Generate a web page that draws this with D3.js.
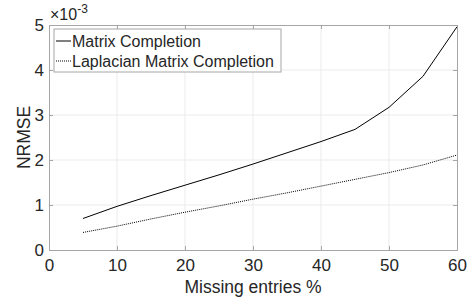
<!DOCTYPE html>
<html>
<head>
<meta charset="utf-8">
<script src="https://cdn.jsdelivr.net/npm/d3@7"></script>
<style>
    body { margin: 0; background: #fff; }
    text { font-family: 'Liberation Sans', Arial, sans-serif; fill: #262626; }
</style>
</head>
<body>
<div id="chart"></div>
<script>
const missing = [5, 10, 15, 20, 25, 30, 35, 40, 45, 50, 55, 60]
const mcValues = [0.70, 0.97, 1.21, 1.44, 1.67, 1.91, 2.16, 2.41, 2.68, 3.17, 3.86, 4.96]
const lmcValues = [0.39, 0.53, 0.69, 0.84, 0.98, 1.13, 1.27, 1.42, 1.57, 1.72, 1.89, 2.11]
const xTicks = [0, 10, 20, 30, 40, 50, 60]
const yTicks = [0, 1, 2, 3, 4, 5]
const seriesNames = ['Matrix Completion', 'Laplacian Matrix Completion']

drawChart()
function drawChart() {
    const dim = {
        width: 475,
        height: 300,
        margin: { top: 25, right: 18, bottom: 50, left: 49 }
    }
    dim.boundedWidth = dim.width - dim.margin.left - dim.margin.right
    dim.boundedHeight = dim.height - dim.margin.top - dim.margin.bottom

    const wrapper = d3.select('#chart')
        .append('svg')
        .attr('width', dim.width)
        .attr('height', dim.height)
    const bounds = wrapper.append('g')
        .attr('transform', `translate(${dim.margin.left},${dim.margin.top})`)

    const xScale = d3.scaleLinear().domain([0, 60]).range([0, dim.boundedWidth])
    const yScale = d3.scaleLinear().domain([0, 5]).range([dim.boundedHeight, 0])

    // grid
    const grid = bounds.append('g')
    grid.selectAll('.vgrid').data(xTicks.slice(1, -1)).join('line')
        .attr('x1', d => xScale(d)).attr('x2', d => xScale(d))
        .attr('y1', 0).attr('y2', dim.boundedHeight)
        .attr('stroke', '#ebebeb').attr('stroke-width', 1)
    grid.selectAll('.hgrid').data(yTicks.slice(1, -1)).join('line')
        .attr('y1', d => yScale(d)).attr('y2', d => yScale(d))
        .attr('x1', 0).attr('x2', dim.boundedWidth)
        .attr('stroke', '#ebebeb').attr('stroke-width', 1)

    // axes (ticks inward, box on)
    const tickLen = 4
    const xAxis = bounds.append('g')
        .attr('transform', `translate(0,${dim.boundedHeight})`)
        .call(d3.axisBottom(xScale).tickValues(xTicks).tickSize(-tickLen).tickPadding(9).tickFormat(d3.format('d')))
    const xAxisTop = bounds.append('g')
        .call(d3.axisTop(xScale).tickValues(xTicks).tickSize(-tickLen).tickFormat(''))
    const yAxis = bounds.append('g')
        .call(d3.axisLeft(yScale).tickValues(yTicks).tickSize(-tickLen).tickPadding(5).tickFormat(d3.format('d')))
    const yAxisRight = bounds.append('g')
        .attr('transform', `translate(${dim.boundedWidth},0)`)
        .call(d3.axisRight(yScale).tickValues(yTicks).tickSize(-tickLen).tickFormat(''))
    ;[xAxis, xAxisTop, yAxis, yAxisRight].forEach(a => {
        a.select('.domain').attr('stroke', '#a6a6a6')
        a.selectAll('.tick line').attr('stroke', '#a6a6a6')
        a.selectAll('.tick text').style('font-size', '17px').attr('fill', '#262626')
    })

    // lines
    const line = d3.line()
        .x((d, i) => xScale(missing[i]))
        .y(d => yScale(d))
    bounds.append('path')
        .attr('d', line(mcValues))
        .attr('fill', 'none')
        .attr('stroke', '#000')
        .attr('stroke-width', 1)
    bounds.append('path')
        .attr('d', line(lmcValues))
        .attr('fill', 'none')
        .attr('stroke', '#000')
        .attr('stroke-width', 1)
        .attr('stroke-dasharray', '1,1')

    // exponent label
    const expo = wrapper.append('text')
        .attr('x', dim.margin.left + 1)
        .attr('y', 20)
        .style('font-size', '16px')
    expo.append('tspan').text('×10')
    expo.append('tspan').text('-3')
        .attr('dy', -7).style('font-size', '12px')

    // axis labels
    wrapper.append('text')
        .attr('x', dim.margin.left + dim.boundedWidth / 2)
        .attr('y', 293)
        .attr('text-anchor', 'middle')
        .style('font-size', '17.5px')
        .text('Missing entries %')
    wrapper.append('text')
        .attr('transform', `translate(30,${dim.margin.top + dim.boundedHeight / 2}) rotate(-90)`)
        .attr('text-anchor', 'middle')
        .style('font-size', '17.5px')
        .text('NRMSE')

    // legend
    const legend = bounds.append('g').attr('transform', 'translate(5,4)')
    legend.append('rect')
        .attr('width', 227).attr('height', 43)
        .attr('fill', '#fff').attr('stroke', '#a6a6a6')
    const rows = legend.selectAll('.row').data(seriesNames).join('g')
        .attr('transform', (d, i) => `translate(0,${12 + i * 20})`)
    rows.append('line')
        .attr('x1', 2).attr('x2', 17)
        .attr('stroke', '#000').attr('stroke-width', 1)
        .attr('stroke-dasharray', (d, i) => i == 1 ? '1,1' : null)
    rows.append('text')
        .attr('x', 18).attr('dy', '0.35em')
        .style('font-size', '16px')
        .text(d => d)
}
</script>
</body>
</html>
